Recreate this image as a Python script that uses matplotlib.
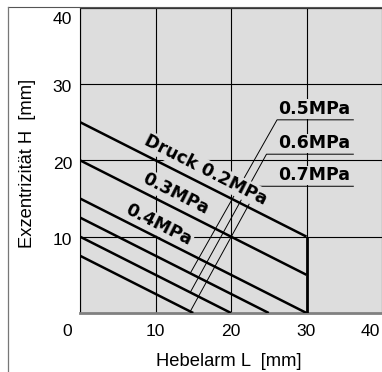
import numpy as np
import matplotlib
matplotlib.use('Agg')
import matplotlib.pyplot as plt
import matplotlib.transforms as mtransforms
from matplotlib.lines import Line2D

# ---------------- data ----------------
pressure_labels = ['Druck 0.2MPa', '0.3MPa', '0.4MPa', '0.5MPa', '0.6MPa', '0.7MPa']
lever_start = [0, 0, 0, 0, 0, 0]
ecc_start = [25, 20, 15, 12.5, 10, 7.5]
lever_end = [30, 30, 30, 25, 20, 15]
ecc_end = [10, 5, 0, 0, 0, 0]
limit_lever = [30, 30]
limit_ecc = [0, 10]

xticks = [0, 10, 20, 30, 40]
yticks = [10, 20, 30, 40]
x_label = 'Hebelarm L  [mm]'
y_label = 'Exzentrizität H  [mm]'

# ---------------- layout ----------------
BG = '#dddddd'
W, H = 382, 372
fig = plt.figure(figsize=(W / 100, H / 100), dpi=100)
fig.patch.set_facecolor('white')
ax = fig.add_axes([80 / W, (H - 313) / H, (W - 80) / W, (313 - 7.6) / H])
ax.set_xlim(0, 39.7)
ax.set_ylim(0, 40)
ax.set_facecolor(BG)

ax.set_xticks(xticks)
ax.set_yticks(yticks)
ax.tick_params(length=0, labelbottom=False, labelleft=False)
ax.grid(True, color='black', lw=0.8)
ax.set_axisbelow(True)

ax.spines['right'].set_visible(False)
ax.spines['left'].set_color('black')
ax.spines['left'].set_linewidth(0.8)
ax.spines['top'].set_color('#333333')
ax.spines['top'].set_linewidth(0.8)
ax.spines['bottom'].set_color('#808080')
ax.spines['bottom'].set_linewidth(2.0)

# figure frame lines (top and left)
top_y = (H - 7.3) / H
fig.add_artist(Line2D([7.5 / W, 1], [top_y, top_y], transform=fig.transFigure,
                      color='#555555', lw=0.8))
fig.add_artist(Line2D([7.5 / W, 7.5 / W], [0, top_y], transform=fig.transFigure,
                      color='#777777', lw=0.9))

# ---------------- main lines ----------------
for x0, y0, x1, y1 in zip(lever_start, ecc_start, lever_end, ecc_end):
    ax.plot([x0, x1], [y0, y1], color='black', lw=1.8, solid_capstyle='butt', zorder=5)
ax.plot(limit_lever, limit_ecc, color='black', lw=2.0, solid_capstyle='butt', zorder=5)

# rotation angle in screen space
p1 = ax.transData.transform((lever_start[0], ecc_start[0]))
p2 = ax.transData.transform((lever_end[0], ecc_end[0]))
angle = np.degrees(np.arctan2(p2[1] - p1[1], p2[0] - p1[0]))

bold_font = dict(family='DejaVu Sans', weight='bold', size=12.5)
box = dict(facecolor=BG, edgecolor='none', pad=1.0)

# inline labels (first three)
inline_pos = [(16.7, 18.7), (12.7, 15.6), (10.4, 11.5)]
for lab, (tx, ty) in zip(pressure_labels[:3], inline_pos):
    ax.text(tx, ty, lab, rotation=angle, rotation_mode='anchor', ha='center',
            va='center', bbox=box, zorder=4, **bold_font)

# callout labels (last three)
callout_start_x = [26.1, 24.7, 23.7]
callout_y = [25.3, 20.8, 16.6]
text_x = 26.3
underline_end = 36.2
leader_end_x = 14.6
for i, lab in enumerate(pressure_labels[3:]):
    k = i + 3
    ly = np.interp(leader_end_x, [lever_start[k], lever_end[k]], [ecc_start[k], ecc_end[k]])
    ax.plot([leader_end_x, callout_start_x[i], underline_end],
            [ly, callout_y[i], callout_y[i]], color='black', lw=0.7, zorder=2)
    ax.text(text_x, callout_y[i] + 0.25, lab, ha='left', va='bottom',
            bbox=dict(facecolor=BG, edgecolor='none', pad=0.5), zorder=4, **bold_font)

# ---------------- tick labels ----------------
tick_font = dict(family='Liberation Sans', size=12.6)
label_font = dict(family='Liberation Sans', size=13.2)
for v in xticks:
    dx = 0
    if v == 0:
        dx = -13
    elif v == 40:
        dx = -12
    off = mtransforms.offset_copy(ax.get_xaxis_transform(), fig=fig, x=dx, y=-19, units='dots')
    ax.text(v, 0, str(v), transform=off, ha='center', va='center', **tick_font)
for v in yticks:
    dy = -4 if v != 40 else -12
    off = mtransforms.offset_copy(ax.get_yaxis_transform(), fig=fig, x=-8, y=dy, units='dots')
    ax.text(0, v, str(v), transform=off, ha='right', va='center', **tick_font)

fig.text(228.5 / W, (H - 362) / H, x_label, ha='center', va='center', **label_font)
fig.text(27 / W, (H - 163) / H, y_label, ha='center', va='center', rotation=90, **label_font)

fig.savefig('out.png', dpi=100, facecolor='white')
